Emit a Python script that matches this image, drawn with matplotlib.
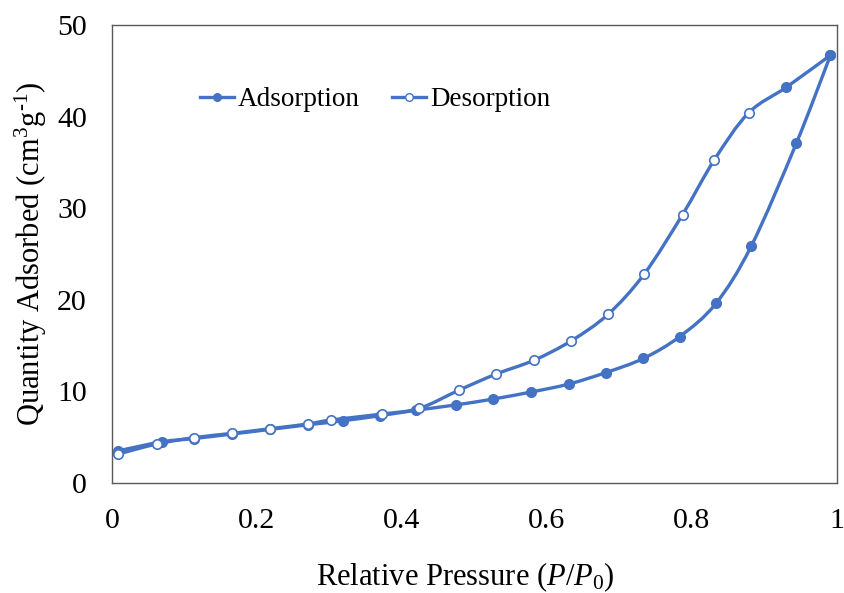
import matplotlib
matplotlib.use("Agg")
import matplotlib.pyplot as plt
from matplotlib.path import Path
from matplotlib.patches import PathPatch
import numpy as np

plt.rcParams["font.family"] = ["Liberation Serif", "DejaVu Serif"]
plt.rcParams["mathtext.fontset"] = "custom"
plt.rcParams["mathtext.rm"] = "Liberation Serif"
plt.rcParams["mathtext.it"] = "Liberation Serif:italic"

# Adsorption branch (low -> high relative pressure)
ads_p = [0.008, 0.069, 0.113, 0.166, 0.218, 0.270, 0.319, 0.370, 0.420, 0.474,
         0.526, 0.578, 0.630, 0.681, 0.733, 0.783, 0.833, 0.882, 0.944, 0.991]
ads_q = [3.50, 4.50, 4.85, 5.35, 5.85, 6.35, 6.80, 7.35, 7.95, 8.52,
         9.17, 9.93, 10.80, 12.05, 13.60, 15.98, 19.60, 25.90, 37.10, 46.70]

# Desorption branch (high -> low relative pressure)
des_p = [0.991, 0.930, 0.878, 0.831, 0.787, 0.734, 0.684, 0.633, 0.582, 0.530,
         0.479, 0.424, 0.373, 0.302, 0.270, 0.218, 0.166, 0.113, 0.062, 0.008]
des_q = [46.70, 43.20, 40.40, 35.30, 29.30, 22.80, 18.40, 15.50, 13.40, 11.90,
         10.15, 8.15, 7.53, 6.88, 6.44, 5.93, 5.42, 4.95, 4.26, 3.15]
des_filled = [True, True] + [False] * (len(des_p) - 2)

x_ticks = [0, 0.2, 0.4, 0.6, 0.8, 1]
x_tick_labels = ["0", "0.2", "0.4", "0.6", "0.8", "1"]
y_ticks = [0, 10, 20, 30, 40, 50]

BLUE = "#4472C4"


def smooth_path(xs, ys):
    """Cubic Bezier path through the points (Catmull-Rom style tangents)."""
    pts = np.column_stack([xs, ys]).astype(float)
    n = len(pts)
    verts = [pts[0]]
    codes = [Path.MOVETO]
    for i in range(n - 1):
        p0 = pts[max(i - 1, 0)]
        p1 = pts[i]
        p2 = pts[i + 1]
        p3 = pts[min(i + 2, n - 1)]
        c1 = p1 + (p2 - p0) / 6.0
        c2 = p2 - (p3 - p1) / 6.0
        verts += [c1, c2, p2]
        codes += [Path.CURVE4] * 3
    return Path(verts, codes)


fig = plt.figure(figsize=(8.45, 5.93), dpi=100)
ax = fig.add_axes([0.1325, 0.1855, 0.858, 0.7723])

lw = 2.4
ms = 6.8

for xs, ys in ((ads_p, ads_q), (des_p, des_q)):
    ax.add_patch(PathPatch(smooth_path(xs, ys), facecolor="none",
                           edgecolor=BLUE, lw=lw, capstyle="round",
                           joinstyle="round", zorder=2))

ax.plot(ads_p, ads_q, linestyle="none", marker="o", ms=ms,
        mfc=BLUE, mec=BLUE, mew=1.2, zorder=3)
open_p = [p for p, f in zip(des_p, des_filled) if not f]
open_q = [q for q, f in zip(des_q, des_filled) if not f]
fill_p = [p for p, f in zip(des_p, des_filled) if f]
fill_q = [q for q, f in zip(des_q, des_filled) if f]
ax.plot(open_p, open_q, linestyle="none", marker="o", ms=ms,
        mfc="white", mec=BLUE, mew=1.2, zorder=4)
ax.plot(fill_p, fill_q, linestyle="none", marker="o", ms=ms,
        mfc=BLUE, mec=BLUE, mew=1.2, zorder=4)

# legend handles
h_ads, = ax.plot([], [], color=BLUE, lw=lw, marker="o", ms=ms - 1.3,
                 mfc=BLUE, mec=BLUE)
h_des, = ax.plot([], [], color=BLUE, lw=lw, marker="o", ms=ms - 1.3,
                 mfc="white", mec=BLUE)
ax.legend([h_ads, h_des], ["Adsorption", "Desorption"], ncol=2,
          loc="center left", bbox_to_anchor=(0.121, 0.837), frameon=False,
          fontsize=19.5, handlelength=1.25, handletextpad=0.15,
          columnspacing=1.2, borderpad=0, borderaxespad=0)

ax.set_xlim(0, 1)
ax.set_ylim(0, 50)
ax.set_xticks(x_ticks)
ax.set_xticklabels(x_tick_labels)
ax.set_yticks(y_ticks)
ax.tick_params(axis="both", length=0, labelsize=21.5, colors="black")
ax.tick_params(axis="x", pad=18)
ax.tick_params(axis="y", pad=18)

for s in ax.spines.values():
    s.set_color("#595959")
    s.set_linewidth(1.0)

ax.set_xlabel(r"Relative Pressure ($P/P_0$)", fontsize=22, labelpad=19)
ax.xaxis.label.set_x(0.487)
ax.set_ylabel(r"Quantity Adsorbed (cm$^{3}$g$^{\text{-}1}$)", fontsize=22,
              labelpad=6)

fig.savefig("out.png", dpi=100)
